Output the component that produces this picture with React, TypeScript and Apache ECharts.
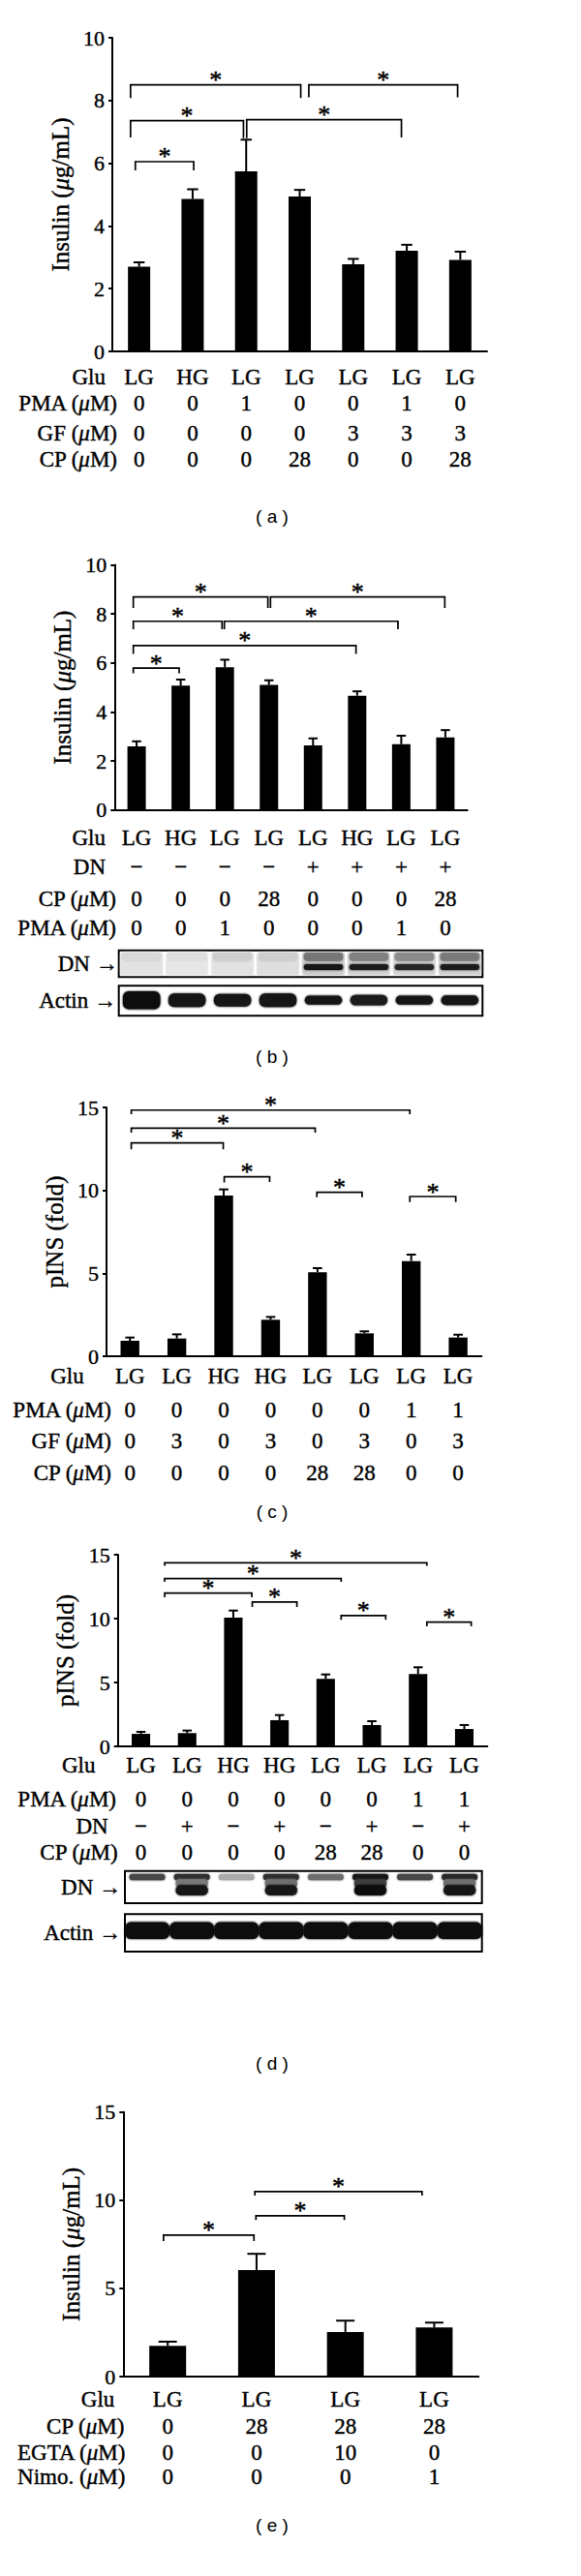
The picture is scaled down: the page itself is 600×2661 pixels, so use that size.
import React, { useEffect, useRef } from 'react';
import * as echarts from 'echarts';

const SERIF = 'Liberation Serif, Times New Roman, serif';
const SANS = 'Liberation Sans, Arial, sans-serif';

// ---------------- (a) ----------------
const aRowNames = ['Glu', 'PMA (μM)', 'GF (μM)', 'CP (μM)'];
const aGlu = ['LG', 'HG', 'LG', 'LG', 'LG', 'LG', 'LG'];
const aPMA = ['0', '0', '1', '0', '0', '1', '0'];
const aGF = ['0', '0', '0', '0', '3', '3', '3'];
const aCP = ['0', '0', '0', '28', '0', '0', '28'];
const aInsulin = [2.7, 4.86, 5.74, 4.94, 2.78, 3.21, 2.92];
const aSem = [0.14, 0.31, 1.01, 0.21, 0.17, 0.19, 0.26];
// [from, lineY, to, leftLegEnd, rightLegEnd]
const aBrackets = [
  [-0.16, 8.5, 3.02, 8.08, 8.08],
  [3.17, 8.5, 5.95, 8.1, 8.1],
  [-0.16, 7.36, 1.95, 6.82, 6.8],
  [2.01, 7.39, 4.9, 6.8, 6.82],
  [-0.07, 6.05, 1.02, 5.77, 5.77],
];

// ---------------- (b) ----------------
const bRowNames = ['Glu', 'DN', 'CP (μM)', 'PMA (μM)'];
const bGlu = ['LG', 'HG', 'LG', 'LG', 'LG', 'HG', 'LG', 'LG'];
const bDN = ['−', '−', '−', '−', '+', '+', '+', '+'];
const bCP = ['0', '0', '0', '28', '0', '0', '0', '28'];
const bPMA = ['0', '0', '1', '0', '0', '0', '1', '0'];
const bInsulin = [2.59, 5.07, 5.82, 5.1, 2.63, 4.66, 2.68, 2.96];
const bSem = [0.21, 0.25, 0.31, 0.19, 0.29, 0.18, 0.35, 0.3];
const bBrackets = [
  [-0.075, 8.69, 2.976, 8.24, 8.24],
  [3.035, 8.69, 6.987, 8.24, 8.24],
  [-0.075, 7.7, 1.937, 7.37, 7.37],
  [1.989, 7.7, 5.925, 7.37, 7.37],
  [-0.075, 6.71, 4.974, 6.37, 6.37],
  [-0.075, 5.79, 0.965, 5.58, 5.58],
];
// blot band grey levels (0 = black, 255 = none) and thickness (fraction of box)
const bDnHaze = [226, 230, 226, 222, 205, 210, 212, 208];
const bDnUpper = [216, 222, 206, 206, 118, 128, 138, 122];
const bDnLower = [255, 255, 255, 255, 25, 28, 38, 28];
const bActinGrey = [12, 18, 18, 18, 24, 26, 24, 24];
const bActinThick = [0.6, 0.45, 0.42, 0.45, 0.3, 0.35, 0.3, 0.32];

// ---------------- (c) ----------------
const cRowNames = ['Glu', 'PMA (μM)', 'GF (μM)', 'CP (μM)'];
const cGlu = ['LG', 'LG', 'HG', 'HG', 'LG', 'LG', 'LG', 'LG'];
const cPMA = ['0', '0', '0', '0', '0', '0', '1', '1'];
const cGF = ['0', '3', '0', '3', '0', '3', '0', '3'];
const cCP = ['0', '0', '0', '0', '28', '28', '0', '0'];
const cPINS = [0.93, 1.07, 9.69, 2.2, 5.06, 1.38, 5.74, 1.13];
const cSem = [0.2, 0.25, 0.37, 0.17, 0.25, 0.12, 0.39, 0.17];
const cBrackets = [
  [0.028, 14.84, 5.97, 14.59, 14.59],
  [0.028, 13.75, 3.952, 13.48, 13.48],
  [0.028, 12.86, 1.99, 12.47, 12.47],
  [2.011, 10.82, 2.98, 10.47, 10.5],
  [3.987, 9.88, 4.952, 9.59, 9.59],
  [5.97, 9.63, 6.95, 9.3, 9.3],
];

// ---------------- (d) ----------------
const dRowNames = ['Glu', 'PMA (μM)', 'DN', 'CP (μM)'];
const dGlu = ['LG', 'LG', 'HG', 'HG', 'LG', 'LG', 'LG', 'LG'];
const dPMA = ['0', '0', '0', '0', '0', '0', '1', '1'];
const dDN = ['−', '+', '−', '+', '−', '+', '−', '+'];
const dCP = ['0', '0', '0', '0', '28', '28', '0', '0'];
const dPINS = [0.98, 1.04, 10.08, 2.05, 5.28, 1.67, 5.66, 1.36];
const dSem = [0.16, 0.2, 0.55, 0.4, 0.35, 0.3, 0.53, 0.31];
const dBrackets = [
  [0.513, 14.37, 6.19, 14.12, 14.12],
  [0.513, 13.13, 4.334, 12.88, 12.88],
  [0.513, 12.0, 2.4, 11.67, 11.67],
  [2.41, 11.29, 3.377, 10.9, 10.9],
  [4.334, 10.23, 5.3, 9.9, 9.9],
  [6.19, 9.72, 7.15, 9.39, 9.39],
];
const dDnUpper = [70, 45, 170, 45, 110, 25, 70, 40];
const dDnMid = [255, 120, 255, 110, 255, 60, 255, 110];
const dDnLower = [255, 22, 255, 22, 255, 12, 255, 22];
const dActinGrey = [14, 14, 14, 14, 14, 14, 14, 14];
const dActinThick = [0.45, 0.45, 0.45, 0.45, 0.45, 0.45, 0.45, 0.45];

// ---------------- (e) ----------------
const eRowNames = ['Glu', 'CP (μM)', 'EGTA (μM)', 'Nimo. (μM)'];
const eGlu = ['LG', 'LG', 'LG', 'LG'];
const eCP = ['0', '28', '28', '28'];
const eEGTA = ['0', '0', '10', '0'];
const eNimo = ['0', '0', '0', '1'];
const eInsulin = [1.74, 6.04, 2.53, 2.78];
const eSem = [0.24, 0.92, 0.64, 0.28];
const eBrackets = [
  [-0.047, 8.02, 0.971, 7.69, 7.69],
  [0.993, 9.12, 1.988, 8.88, 8.88],
  [0.981, 10.49, 2.863, 10.26, 10.26],
];

const yTitleInsulin = 'Insulin (μg/mL)';
const yTitlePINS = 'pINS (fold)';

// ---------------- layout ----------------
const panels = [
  {
    left: 116, top: 39, width: 387, height: 324, ymax: 10, interval: 2, nameGap: 39, barW: 0.416,
    rowOffsets: [26, 53, 84, 111], rowGaps: [7, -5, -5, -5], captionY: 535, caption: '( a )',
    title: yTitleInsulin, rowNames: aRowNames, rows: [aGlu, aPMA, aGF, aCP], values: aInsulin, sem: aSem, brackets: aBrackets,
  },
  {
    left: 118.3, top: 583.5, width: 364.4, height: 253.2, ymax: 10, interval: 2, nameGap: 39.6, barW: 0.417,
    rowOffsets: [28.3, 58.3, 91.6, 121.6], rowGaps: [9.3, 9.3, -1.7, -1.7], captionY: 1093, caption: '( b )',
    title: yTitleInsulin, rowNames: bRowNames, rows: [bGlu, bDN, bCP, bPMA], values: bInsulin, sem: bSem, brackets: bBrackets,
  },
  {
    left: 110, top: 1144, width: 387.3, height: 257, ymax: 15, interval: 5, nameGap: 34.7, barW: 0.4,
    rowOffsets: [20.7, 55, 87, 120], rowGaps: [9.3, -5, -5, -5], captionY: 1563, caption: '( c )',
    title: yTitlePINS, rowNames: cRowNames, rows: [cGlu, cPMA, cGF, cCP], values: cPINS, sem: cSem, brackets: cBrackets,
  },
  {
    left: 121.7, top: 1606, width: 381.6, height: 198, ymax: 15, interval: 5, nameGap: 38, barW: 0.4,
    rowOffsets: [19.3, 54.3, 82.7, 109.3], rowGaps: [10, 1.7, 10, 0], captionY: 2133, caption: '( d )',
    title: yTitlePINS, rowNames: dRowNames, rows: [dGlu, dPMA, dDN, dCP], values: dPINS, sem: dSem, brackets: dBrackets,
  },
  {
    left: 127.3, top: 2181.7, width: 367, height: 273.3, ymax: 15, interval: 5, nameGap: 35.3, barW: 0.414,
    rowOffsets: [23, 51, 78, 103], rowGaps: [9, -1, -2, -2], captionY: 2610, caption: '( e )',
    title: yTitleInsulin, rowNames: eRowNames, rows: [eGlu, eCP, eEGTA, eNimo], values: eInsulin, sem: eSem, brackets: eBrackets,
  },
];

const blots = [
  {
    label: 'DN →', left: 122.7, top: 981.7, width: 375.6, height: 27.6, labelMargin: 1,
    layers: [
      { grey: bDnHaze, center: 0.5, thick: bDnHaze.map(() => 0.84), w: 0.92, r: 2 },
      { grey: bDnUpper, center: 0.24, thick: bDnUpper.map(() => 0.32), w: 0.86, r: 4 },
      { grey: bDnLower, center: 0.63, thick: bDnLower.map(() => 0.22), w: 0.86, r: 3 },
    ],
  },
  {
    label: 'Actin →', left: 122.7, top: 1018.3, width: 375.6, height: 31, labelMargin: 2.7,
    layers: [{ grey: bActinGrey, center: 0.48, thick: bActinThick, w: 0.82, r: 6 }],
  },
  {
    label: 'DN →', left: 129, top: 1932.7, width: 368.7, height: 33.3, labelMargin: 4,
    layers: [
      { grey: dDnUpper, center: 0.19, thick: dDnUpper.map(() => 0.2), w: 0.8, r: 3 },
      { grey: dDnMid, center: 0.38, thick: dDnMid.map(() => 0.24), w: 0.72, r: 3 },
      { grey: dDnLower, center: 0.6, thick: dDnLower.map(() => 0.32), w: 0.72, r: 5 },
    ],
  },
  {
    label: 'Actin →', left: 129, top: 1977.3, width: 368.7, height: 38.7, labelMargin: 4,
    layers: [{ grey: dActinGrey, center: 0.44, thick: dActinThick, w: 1.0, r: 6 }],
  },
];

const FONT_ROW = 23;
const FONT_TICK = 22;
const FONT_TITLE = 25;
const FONT_STAR = 26;
const FONT_CAPTION = 19;
const INK = { textBorderColor: '#000', textBorderWidth: 0.4 };

const richName = (s: string) =>
  s.split('μ').map((p) => (p ? `{r|${p}}` : '')).join('{i|μ}');
const richStyle = (size: number) => ({
  r: { fontSize: size, fontFamily: SERIF, color: '#000', ...INK },
  i: { fontSize: size, fontFamily: SERIF, fontStyle: 'italic', color: '#000', ...INK },
});

function buildOption() {
  const option: any = {
    animation: false,
    backgroundColor: '#fff',
    grid: [],
    xAxis: [],
    yAxis: [],
    series: [],
    title: [],
  };

  panels.forEach((p) => {
    const gi = option.grid.length;
    const n = p.values.length;
    option.grid.push({ left: p.left, top: p.top, width: p.width, height: p.height });

    const mainX = option.xAxis.length;
    option.xAxis.push({
      type: 'category', gridIndex: gi, data: p.rows[0].map((_, i) => String(i)),
      axisLine: { onZero: false, lineStyle: { color: '#000', width: 2 } },
      axisTick: { show: false }, axisLabel: { show: false }, splitLine: { show: false },
    });
    const brX = option.xAxis.length;
    option.xAxis.push({
      type: 'value', gridIndex: gi, min: -0.5, max: n - 0.5, show: false,
      axisLine: { show: false, onZero: false }, splitLine: { show: false },
    });
    p.rows.forEach((row, ri) => {
      option.xAxis.push({
        type: 'category', gridIndex: gi, position: 'bottom', offset: p.rowOffsets[ri], data: row,
        axisLine: { show: false, onZero: false }, axisTick: { show: false }, splitLine: { show: false },
        axisLabel: {
          interval: 0, margin: 0, verticalAlign: 'middle', fontSize: FONT_ROW, fontFamily: SERIF, color: '#000', ...INK,
        },
        name: richName(p.rowNames[ri]), nameLocation: 'start', nameGap: p.rowGaps[ri],
        nameTextStyle: { align: 'right', verticalAlign: 'middle', fontSize: FONT_ROW, fontFamily: SERIF, rich: richStyle(FONT_ROW) },
      });
    });

    const mainY = option.yAxis.length;
    option.yAxis.push({
      type: 'value', gridIndex: gi, min: 0, max: p.ymax, interval: p.interval,
      axisLine: { show: true, onZero: false, lineStyle: { color: '#000', width: 2 } },
      axisTick: { show: true, length: 4, lineStyle: { color: '#000', width: 2 } },
      axisLabel: { fontSize: FONT_TICK, fontFamily: SERIF, color: '#000', margin: 8, ...INK },
      splitLine: { show: false },
      name: richName(p.title), nameLocation: 'middle', nameGap: p.nameGap,
      nameTextStyle: { fontSize: FONT_TITLE, fontFamily: SERIF, rich: richStyle(FONT_TITLE) },
    });

    option.series.push({
      type: 'bar', xAxisIndex: mainX, yAxisIndex: mainY, data: p.values,
      barWidth: `${p.barW * 100}%`, itemStyle: { color: '#000' }, z: 2,
    });

    const barW = p.barW;
    option.series.push({
      type: 'custom', xAxisIndex: mainX, yAxisIndex: mainY, z: 3, itemStyle: { color: '#000' },
      data: p.values.map((v, i) => [i, v, v + p.sem[i]]),
      renderItem: (params: any, api: any) => {
        const i = api.value(0);
        const a = api.coord([i, api.value(1)]);
        const b = api.coord([i, api.value(2)]);
        const cap = (api.size([1, 0])[0] * barW * 0.5) / 2;
        return {
          type: 'group',
          children: [
            { type: 'line', shape: { x1: a[0], y1: a[1], x2: b[0], y2: b[1] }, style: { stroke: '#000', lineWidth: 2 } },
            { type: 'line', shape: { x1: b[0] - cap, y1: b[1], x2: b[0] + cap, y2: b[1] }, style: { stroke: '#000', lineWidth: 2 } },
          ],
        };
      },
    });

    option.series.push({
      type: 'custom', xAxisIndex: brX, yAxisIndex: mainY, z: 4, itemStyle: { color: '#000' },
      data: p.brackets,
      encode: { x: 0, y: 1 },
      renderItem: (params: any, api: any) => {
        const x1 = api.value(0), yl = api.value(1), x2 = api.value(2), l1 = api.value(3), l2 = api.value(4);
        const A = api.coord([x1, l1]), B = api.coord([x1, yl]), C = api.coord([x2, yl]), D = api.coord([x2, l2]);
        return {
          type: 'group',
          children: [
            { type: 'polyline', shape: { points: [A, B, C, D] }, style: { stroke: '#000', lineWidth: 1.7, fill: null } },
            {
              type: 'text', x: (B[0] + C[0]) / 2, y: B[1] - 5,
              style: {
                text: '*', fill: '#000', textFill: '#000', fontSize: FONT_STAR, fontFamily: SERIF,
                stroke: '#000', lineWidth: 0.5, textStroke: '#000', textStrokeWidth: 0.5,
                align: 'center', verticalAlign: 'middle', textAlign: 'center', textVerticalAlign: 'middle',
              },
            },
          ],
        };
      },
    });

    option.title.push({
      text: p.caption, left: 281, top: p.captionY - 11, textAlign: 'center', padding: 0,
      textStyle: { fontSize: FONT_CAPTION, fontFamily: SANS, fontWeight: 'normal', color: '#000' },
    });
  });

  blots.forEach((b) => {
    const gi = option.grid.length;
    option.grid.push({
      left: b.left, top: b.top, width: b.width, height: b.height,
      show: true, borderColor: '#000', borderWidth: 2, backgroundColor: '#fff',
    });
    const xi = option.xAxis.length;
    option.xAxis.push({
      type: 'value', gridIndex: gi, min: -0.5, max: 7.5, show: false,
      axisLine: { show: false, onZero: false }, splitLine: { show: false },
    });
    const yi = option.yAxis.length;
    option.yAxis.push({
      type: 'value', gridIndex: gi, min: 0, max: 1, inverse: true, show: false,
      axisLine: { show: false, onZero: false }, splitLine: { show: false },
    });
    option.yAxis.push({
      type: 'category', gridIndex: gi, data: [b.label], position: 'left',
      axisLine: { show: false, onZero: false }, axisTick: { show: false }, splitLine: { show: false },
      axisLabel: { fontSize: FONT_ROW, fontFamily: SERIF, color: '#000', margin: b.labelMargin, ...INK },
    });
    b.layers.forEach((layer) => {
      const w = layer.w, r = layer.r;
      option.series.push({
        type: 'custom', xAxisIndex: xi, yAxisIndex: yi, z: 2,
        data: layer.grey.map((g, i) => [i, layer.center, layer.thick[i], g]).filter((d) => d[3] < 250),
        renderItem: (params: any, api: any) => {
          const i = api.value(0), cy = api.value(1), t = api.value(2), g = api.value(3);
          const c = api.coord([i, cy]);
          const sz = api.size([w, t], [i, cy]);
          const W = Math.abs(sz[0]), Ht = Math.abs(sz[1]);
          const col = `rgb(${g},${g},${g})`;
          return {
            type: 'rect',
            shape: { x: c[0] - W / 2, y: c[1] - Ht / 2, width: W, height: Ht, r: Math.min(r, Ht / 2) },
            style: { fill: col, shadowBlur: 2, shadowColor: col },
          };
        },
      });
    });
  });

  return option;
}

export default function App() {
  const ref = useRef<HTMLDivElement>(null);
  useEffect(() => {
    const chart = echarts.init(ref.current as HTMLDivElement, null, { renderer: 'svg' });
    chart.setOption(buildOption());
    return () => chart.dispose();
  }, []);
  return (
    <div
      ref={ref}
      style={{ position: 'absolute', left: 0, top: 0, width: 600, height: 2661, background: '#fff' }}
    />
  );
}
